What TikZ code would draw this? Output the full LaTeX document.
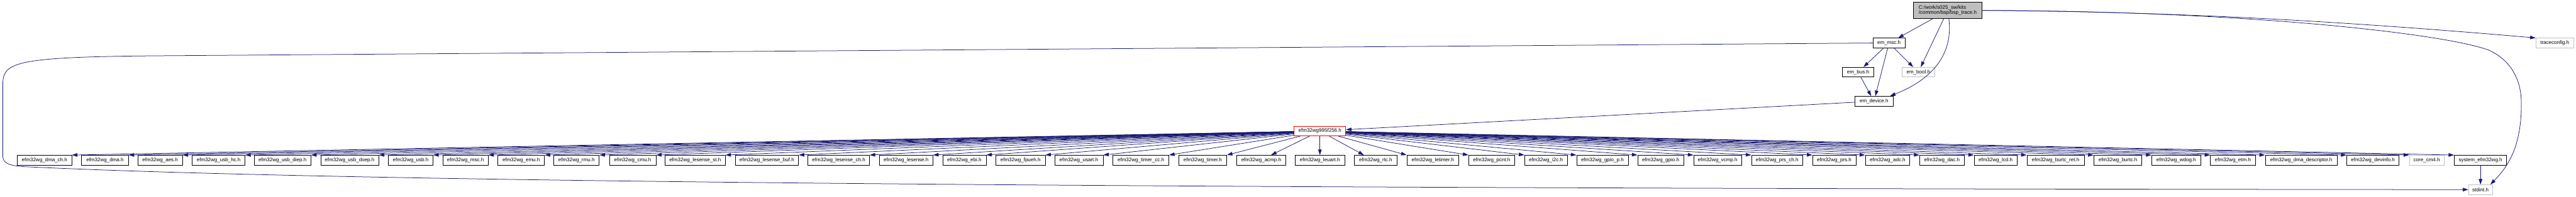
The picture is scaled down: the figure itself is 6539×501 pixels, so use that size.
\documentclass[tikz,border=0pt]{standalone}
\usepackage{fontspec}
\setmainfont{Liberation Sans}
\usetikzlibrary{arrows.meta}
\definecolor{edgecol}{HTML}{191970}
\definecolor{grey75}{HTML}{BFBFBF}
\newcommand\fs{\fontsize{12.8}{13.5}\selectfont}
\begin{document}
\begin{tikzpicture}[x=1pt,y=-1pt,
  box/.style={draw=black,line width=1pt,fill=white,minimum height=25pt,inner sep=0pt,font=\fs},
  extbox/.style={box,draw=grey75},
  rootbox/.style={box,fill=grey75,minimum height=41pt,align=left},
  mainbox/.style={box,draw=red},
  edge/.style={draw=edgecol,line width=1.2pt,-{Triangle[length=14pt,width=9pt]}}]
\useasboundingbox (0,0) rectangle (6539,501);
% upper part
\node[rootbox,minimum width=174pt] (top) at (4944,26.5) {C:/work/s025\_sw/kits\\/common/bsp/bsp\_trace.h};
\node[box,minimum width=82pt] (emmsc) at (4795,109.5) {em\_msc.h};
\node[extbox,minimum width=96pt] (tracecfg) at (6485,109.5) {traceconfig.h};
\node[box,minimum width=79pt] (embus) at (4716.5,183.5) {em\_bus.h};
\node[extbox,minimum width=83pt] (embool) at (4869.5,183.5) {em\_bool.h};
\node[box,minimum width=96pt] (emdev) at (4757,257.5) {em\_device.h};
\node[mainbox,minimum width=131pt] (red) at (3350.5,333.5) {efm32wg995f256.h};
% bottom row
\node[box,minimum width=138pt] (n1) at (113,407.5) {efm32wg\_dma\_ch.h};
\node[box,minimum width=119pt] (n2) at (266.5,407.5) {efm32wg\_dma.h};
\node[box,minimum width=113pt] (n3) at (406.5,407.5) {efm32wg\_aes.h};
\node[box,minimum width=134pt] (n4) at (555,407.5) {efm32wg\_usb\_hc.h};
\node[box,minimum width=144pt] (n5) at (717,407.5) {efm32wg\_usb\_diep.h};
\node[box,minimum width=147pt] (n6) at (887.5,407.5) {efm32wg\_usb\_doep.h};
\node[box,minimum width=113pt] (n7) at (1042.5,407.5) {efm32wg\_usb.h};
\node[box,minimum width=115pt] (n8) at (1181.5,407.5) {efm32wg\_msc.h};
\node[box,minimum width=118pt] (n9) at (1323,407.5) {efm32wg\_emu.h};
\node[box,minimum width=115pt] (n10) at (1463.5,407.5) {efm32wg\_rmu.h};
\node[box,minimum width=118pt] (n11) at (1606,407.5) {efm32wg\_cmu.h};
\node[box,minimum width=153pt] (n12) at (1764.5,407.5) {efm32wg\_lesense\_st.h};
\node[box,minimum width=161pt] (n13) at (1946.5,407.5) {efm32wg\_lesense\_buf.h};
\node[box,minimum width=156pt] (n14) at (2129,407.5) {efm32wg\_lesense\_ch.h};
\node[box,minimum width=136pt] (n15) at (2300,407.5) {efm32wg\_lesense.h};
\node[box,minimum width=110pt] (n16) at (2448,407.5) {efm32wg\_ebi.h};
\node[box,minimum width=125pt] (n17) at (2590.5,407.5) {efm32wg\_fpueh.h};
\node[box,minimum width=123pt] (n18) at (2738.5,407.5) {efm32wg\_usart.h};
\node[box,minimum width=142pt] (n19) at (2896,407.5) {efm32wg\_timer\_cc.h};
\node[box,minimum width=122pt] (n20) at (3053,407.5) {efm32wg\_timer.h};
\node[box,minimum width=125pt] (n21) at (3201.5,407.5) {efm32wg\_acmp.h};
\node[box,minimum width=127pt] (n22) at (3350.5,407.5) {efm32wg\_leuart.h};
\node[box,minimum width=108pt] (n23) at (3492,407.5) {efm32wg\_rtc.h};
\node[box,minimum width=132pt] (n24) at (3637,407.5) {efm32wg\_letimer.h};
\node[box,minimum width=117pt] (n25) at (3786.5,407.5) {efm32wg\_pcnt.h};
\node[box,minimum width=108pt] (n26) at (3924,407.5) {efm32wg\_i2c.h};
\node[box,minimum width=131pt] (n27) at (4067.5,407.5) {efm32wg\_gpio\_p.h};
\node[box,minimum width=117pt] (n28) at (4215.5,407.5) {efm32wg\_gpio.h};
\node[box,minimum width=122pt] (n29) at (4360,407.5) {efm32wg\_vcmp.h};
\node[box,minimum width=130pt] (n30) at (4511,407.5) {efm32wg\_prs\_ch.h};
\node[box,minimum width=110pt] (n31) at (4656,407.5) {efm32wg\_prs.h};
\node[box,minimum width=113pt] (n32) at (4791.5,407.5) {efm32wg\_adc.h};
\node[box,minimum width=113pt] (n33) at (4929.5,407.5) {efm32wg\_dac.h};
\node[box,minimum width=109pt] (n34) at (5065.5,407.5) {efm32wg\_lcd.h};
\node[box,minimum width=146pt] (n35) at (5218,407.5) {efm32wg\_burtc\_ret.h};
\node[box,minimum width=122pt] (n36) at (5376,407.5) {efm32wg\_burtc.h};
\node[box,minimum width=124pt] (n37) at (5524,407.5) {efm32wg\_wdog.h};
\node[box,minimum width=114pt] (n38) at (5668,407.5) {efm32wg\_etm.h};
\node[box,minimum width=183pt] (n39) at (5841.5,407.5) {efm32wg\_dma\_descriptor.h};
\node[box,minimum width=133pt] (n40) at (6023.5,407.5) {efm32wg\_devinfo.h};
\node[extbox,minimum width=88pt] (n41) at (6160,407.5) {core\_cm4.h};
\node[box,minimum width=133pt] (n42) at (6296.5,407.5) {system\_efm32wg.h};
\node[extbox,minimum width=61pt] (stdint) at (6296.5,482.5) {stdint.h};
% edges, upper part
\draw[edge] (top) -- (emmsc);
\draw[edge] (top) -- (embool);
\draw[edge] ([xshift=3pt]top.south) .. controls (4955,110) and (4935,190) .. ([xshift=-8pt]emdev.north east);
\draw[edge] (top.east) .. controls (5500,30) and (5900,50) .. (tracecfg.north west);
\draw[edge] (top.east) .. controls (5700,28) and (6200,85) .. (6316,127)
  .. controls (6370,150) and (6400,200) .. (6400,260)
  .. controls (6402,380) and (6360,430) .. ([xshift=-6pt]stdint.north east);
\draw[edge] (emmsc) -- (embus);
\draw[edge] (emmsc) -- (emdev);
\draw[edge] (emmsc) -- (embool);
\draw[edge] (embus) -- (emdev);
\draw[edge] (emmsc.west) -- (400,142) .. controls (20,145) and (7,160) .. (7,220)
  -- (7,395) .. controls (7,415) and (20,421) .. (60,424)
  .. controls (1000,470) and (3500,480) .. (stdint.west);
\draw[edge] (emdev) -- (red);
% edges from efm32wg995f256.h
\foreach \n in {n1,n2,n3,n4,n5,n6,n7,n8,n9,n10,n11,n12,n13,n14,n15,n16,n17,n18,n19,n20}
  \draw[edge] (red) -- (\n.north east);
\draw[edge] (red) -- ([xshift=25pt]n21.north);
\draw[edge] (red) -- (n22);
\draw[edge] (red) -- ([xshift=-30pt]n23.north);
\foreach \n in {n24,n25,n26,n27,n28,n29,n30,n31,n32,n33,n34,n35,n36,n37,n38,n39,n40,n41,n42}
  \draw[edge] (red) -- (\n.north west);
\draw[edge] (n42) -- (stdint);
\end{tikzpicture}
\end{document}
